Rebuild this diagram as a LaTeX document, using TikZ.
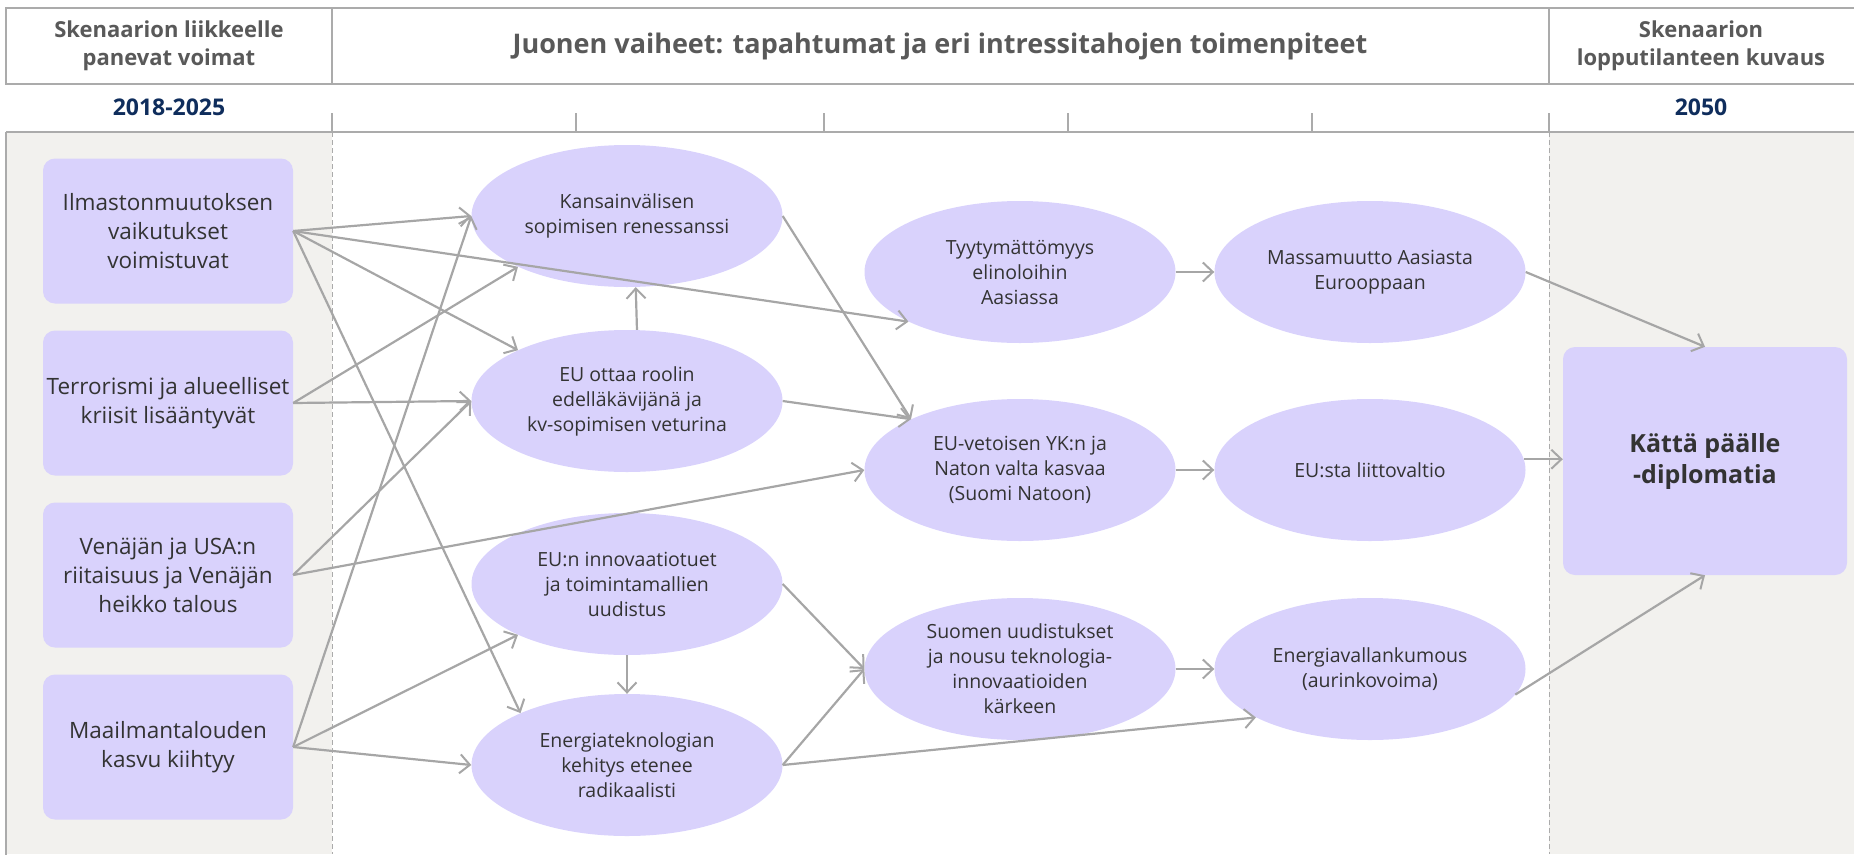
\documentclass[tikz,border=0pt]{standalone}
\usepackage{fontspec}
\setmainfont{Open Sans}
\usetikzlibrary{shapes.geometric,arrows.meta}
\definecolor{lav}{HTML}{D9D2FC}
\definecolor{panel}{HTML}{F2F1EE}
\definecolor{arrowgray}{HTML}{A6A6A6}
\definecolor{hdrgray}{HTML}{595959}
\definecolor{navy}{HTML}{0F2D5C}
\definecolor{txt}{HTML}{333333}
\definecolor{linegray}{HTML}{ABABAB}
\tikzset{
  frameline/.style={draw=linegray, line width=1.4pt},
  dashline/.style={draw=linegray, line width=1pt, dash pattern=on 5pt off 3pt},
  hdr/.style={text=hdrgray, font=\fontsize{22}{28}\selectfont\bfseries, align=center},
  title/.style={text=hdrgray, font=\fontsize{27}{31}\selectfont\bfseries, align=center},
  year/.style={text=navy, font=\fontsize{23}{27}\selectfont\bfseries},
  driver/.style={rectangle, rounded corners=12pt, fill=lav, minimum width=250pt, minimum height=145pt, text=txt, font=\fontsize{22.5}{29}\selectfont, align=center, inner sep=0pt},
  event/.style={ellipse, fill=lav, minimum width=311pt, minimum height=142pt, text=txt, font=\fontsize{19.5}{25}\selectfont, align=center, inner sep=0pt},
  endbox/.style={rectangle, rounded corners=12pt, fill=lav, minimum width=284pt, minimum height=228pt, text=txt, font=\fontsize{25}{31}\selectfont\bfseries, align=center, inner sep=0pt},
  arr/.style={draw=arrowgray, line width=2.2pt, -{Straight Barb[length=10pt,width=19pt,line width=2pt]}}
}
\begin{document}
\begin{tikzpicture}[x=1pt,y=-1pt]
\useasboundingbox (0,0) rectangle (1854,854);
% panels
\fill[panel] (6,132) rectangle (332,854);
\fill[panel] (1549,132) rectangle (1854,854);
% header frame
\draw[frameline] (1856,8) -- (6,8) -- (6,84) -- (1856,84);
\draw[frameline] (332,8) -- (332,84);
\draw[frameline] (1549,8) -- (1549,84);
\draw[frameline] (6,132) -- (1856,132);
\draw[frameline] (6,132) -- (6,856);
% ticks
\foreach \x in {332,576,824,1068,1312,1549} \draw[frameline] (\x,113) -- (\x,132);
% dashed separators
\draw[dashline] (332,132) -- (332,854);
\draw[dashline] (1549,132) -- (1549,854);
% header texts
\node[hdr] (h1) at (169,46) {Skenaarion liikkeelle\\panevat voimat};
\node[title] (h2) at (940,46) {Juonen vaiheet: tapahtumat ja eri intressitahojen toimenpiteet};
\node[hdr] (h3) at (1701,46) {Skenaarion\\lopputilanteen kuvaus};
\node[year] (y1) at (169,107) {2018-2025};
\node[year] (y2) at (1701,107) {2050};
% drivers
\node[driver] (b1) at (168,231) {Ilmastonmuutoksen\\vaikutukset\\voimistuvat};
\node[driver] (b2) at (168,403) {Terrorismi ja alueelliset\\kriisit lisääntyvät};
\node[driver] (b3) at (168,575) {Venäjän ja USA:n\\riitaisuus ja Venäjän\\heikko talous};
\node[driver] (b4) at (168,747) {Maailmantalouden\\kasvu kiihtyy};
% events
\node[event] (e1) at (627,216) {Kansainvälisen\\sopimisen renessanssi};
\node[event] (e2) at (627,401) {EU ottaa roolin\\edelläkävijänä ja\\kv-sopimisen veturina};
\node[event] (e3) at (627,584) {EU:n innovaatiotuet\\ja toimintamallien\\uudistus};
\node[event] (e4) at (627,765) {Energiateknologian\\kehitys etenee\\radikaalisti};
\node[event] (e5) at (1020,272) {Tyytymättömyys\\elinoloihin\\Aasiassa};
\node[event] (e6) at (1020,470) {EU-vetoisen YK:n ja\\Naton valta kasvaa\\(Suomi Natoon)};
\node[event] (e7) at (1020,669) {Suomen uudistukset\\ja nousu teknologia-\\innovaatioiden\\kärkeen};
\node[event] (e8) at (1370,272) {Massamuutto Aasiasta\\Eurooppaan};
\node[event] (e9) at (1370,470) {EU:sta liittovaltio};
\node[event] (e10) at (1370,669) {Energiavallankumous\\(aurinkovoima)};
\node[endbox] (fin) at (1705,461) {Kättä päälle\\-diplomatia};
% connectors
\draw[arr] (b1.east) -- (e1.west);
\draw[arr] (b1.east) -- (e5.204);
\draw[arr] (b1.east) -- (e2.155);
\draw[arr] (b1.east) -- (e4.154);
\draw[arr] (b2.east) -- (e1.205);
\draw[arr] (b2.east) -- (e2.west);
\draw[arr] (b3.east) -- (e2.west);
\draw[arr] (b3.east) -- (e6.west);
\draw[arr] (b4.east) -- (e1.west);
\draw[arr] (b4.east) -- (e3.205);
\draw[arr] (b4.east) -- (e4.west);
\draw[arr] (e2.82) -- (e1.277);
\draw[arr] (e1.east) -- (e6.155);
\draw[arr] (e2.east) -- (e6.155);
\draw[arr] (e3.south) -- (e4.north);
\draw[arr] (e3.east) -- (e7.west);
\draw[arr] (e4.east) -- (e7.west);
\draw[arr] (e4.east) -- (e10.203);
\draw[arr] (e5.east) -- (e8.west);
\draw[arr] (e6.east) -- (e9.west);
\draw[arr] (e7.east) -- (e10.west);
\draw[arr] (e8.east) -- (fin.north);
\draw[arr] (e9.4) -- (e9.4 -| fin.west);
\draw[arr] (e10.350) -- (fin.south);
\end{tikzpicture}
\end{document}
